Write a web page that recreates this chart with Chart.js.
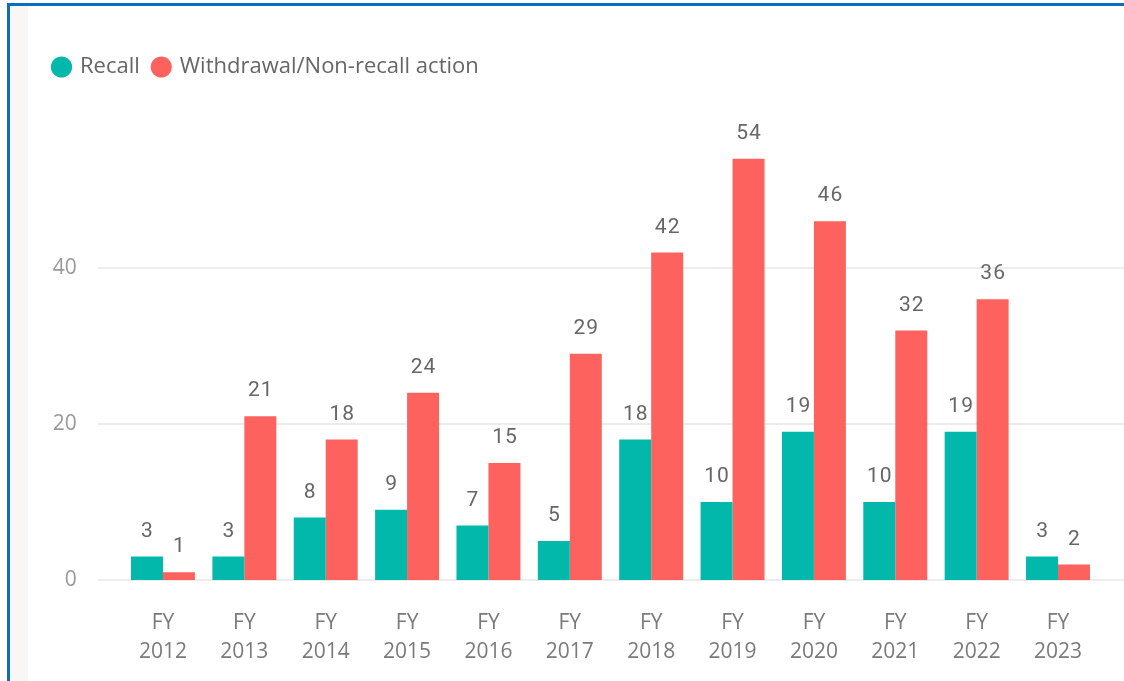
<!DOCTYPE html>
<html>
<head>
<meta charset="utf-8">
<script src="https://cdn.jsdelivr.net/npm/chart.js@4"></script>
<style>
    html, body { margin: 0; padding: 0; background: #fff; }
    body { width: 1124px; height: 681px; position: relative; overflow: hidden; }
    #frameTop { position: absolute; left: 7px; top: 3px; right: 0; height: 3px; background: #0f6cbd; }
    #frameLeft { position: absolute; left: 7px; top: 3px; bottom: 0; width: 3px; background: #0f6cbd; }
    #strip { position: absolute; left: 10px; top: 6px; bottom: 0; width: 18px; background: #f8f7f6; }
    #wrap { position: absolute; left: 0; top: 0; width: 1124px; height: 681px; }
</style>
</head>
<body>
<div id="strip"></div>
<div id="frameTop"></div>
<div id="frameLeft"></div>
<div id="wrap"><canvas id="graph" width="1124" height="681"></canvas></div>
<script>
// DADOS
const anos = ["2012", "2013", "2014", "2015", "2016", "2017", "2018", "2019", "2020", "2021", "2022", "2023"];
const recall = [3, 3, 8, 9, 7, 5, 18, 10, 19, 10, 19, 3];
const withdrawal = [1, 21, 18, 24, 15, 29, 42, 54, 46, 32, 36, 2];
const yTicks = [0, 20, 40];

const labels = anos.map(a => ["FY", a]);

// RÓTULOS DAS BARRAS
const barLabels = {
    id: "barLabels",
    afterDatasetsDraw(chart) {
        const ctx = chart.ctx;
        ctx.save();
        ctx.font = "400 21px Roboto";
        ctx.letterSpacing = "1px";
        ctx.fillStyle = "#666";
        ctx.textAlign = "center";
        ctx.textBaseline = "middle";
        chart.data.datasets.forEach((ds, i) => {
            chart.getDatasetMeta(i).data.forEach((bar, j) => {
                ctx.fillText(ds.data[j], bar.x + 0.5, bar.y - 25);
            });
        });
        ctx.restore();
    },
};

// LINHAS DE GRADE MAIS LARGAS
const wideGrid = {
    id: "wideGrid",
    beforeDatasetsDraw(chart) {
        const ctx = chart.ctx;
        const y = chart.scales.y;
        ctx.save();
        ctx.fillStyle = "#ececec";
        yTicks.forEach(v => {
            const py = Math.round(y.getPixelForValue(v));
            ctx.fillRect(98, py - 1, chart.width - 98, 2);
        });
        ctx.restore();
    },
};

// ESPAÇO ABAIXO DA LEGENDA
const legendGap = {
    id: "legendGap",
    beforeInit(chart) {
        const fit = chart.legend.fit;
        chart.legend.fit = function () {
            fit.bind(chart.legend)();
            this.height = 85.6;
        };
    },
};

Chart.defaults.font.family = "'Open Sans', sans-serif";

const ctx = document.getElementById("graph");
new Chart(ctx, {
    type: "bar",
    data: {
        labels: labels,
        datasets: [
            {
                label: "Recall",
                data: recall,
                backgroundColor: "#01b8aa",
                borderWidth: 0,
            },
            {
                label: "Withdrawal/Non-recall action",
                data: withdrawal,
                backgroundColor: "#fd625e",
                borderWidth: 0,
            },
        ],
    },
    options: {
        responsive: false,
        animation: false,
        maintainAspectRatio: false,
        layout: {
            padding: { left: 40, right: 25.3, top: 42, bottom: 0 },
        },
        datasets: {
            bar: {
                categoryPercentage: 0.786,
                barPercentage: 1,
            },
        },
        scales: {
            x: {
                grid: { display: false },
                border: { display: false },
                ticks: {
                    color: "#7a7a7a",
                    padding: 21,
                    maxRotation: 0,
                    font: { size: 21, lineHeight: 1.36 },
                },
                afterFit(scale) {
                    scale.height = 101;
                },
            },
            y: {
                min: 0,
                max: 58,
                grid: { display: false, drawTicks: false },
                border: { display: false },
                afterBuildTicks(scale) {
                    scale.ticks = yTicks.map(v => ({ value: v }));
                },
                ticks: {
                    color: "#999",
                    padding: 45.5,
                    font: { size: 21 },
                },
                afterFit(scale) {
                    scale.width = 82.3;
                },
            },
        },
        plugins: {
            tooltip: { enabled: false },
            legend: {
                display: true,
                position: "top",
                align: "start",
                labels: {
                    color: "#666",
                    usePointStyle: true,
                    pointStyle: "circle",
                    boxWidth: 15,
                    boxHeight: 15,
                    padding: 14,
                    font: { size: 22 },
                },
            },
        },
    },
    plugins: [wideGrid, barLabels, legendGap],
});
</script>
</body>
</html>
